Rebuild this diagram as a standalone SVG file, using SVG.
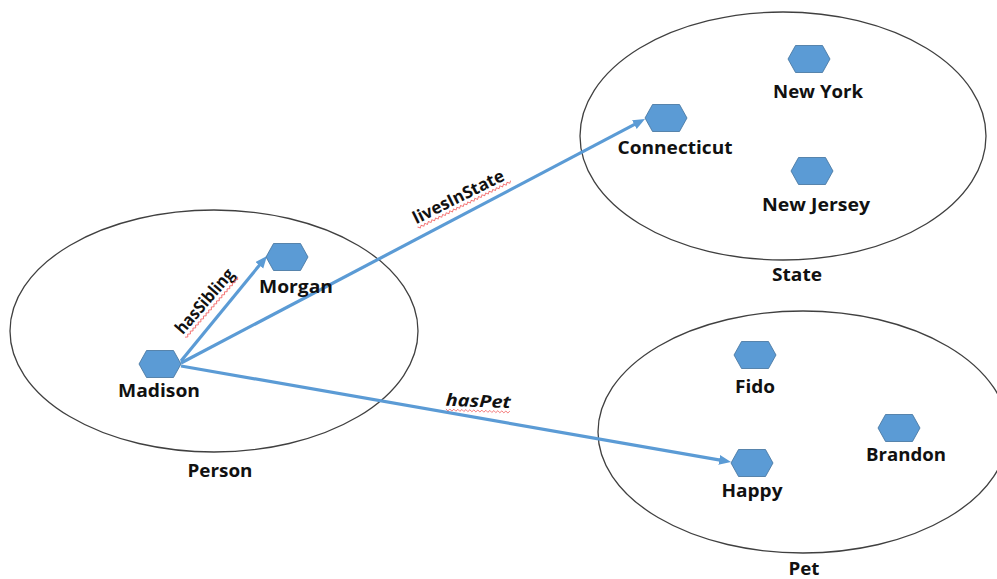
<svg xmlns="http://www.w3.org/2000/svg" width="997" height="579" viewBox="0 0 997 579">
<defs>
<style>
.set{fill:none;stroke:#404040;stroke-width:1.3}
.hex{fill:#5B9BD5;stroke:#41719C;stroke-width:0.8}
.lbl{font-family:"Open Sans","Liberation Sans",sans-serif;font-weight:700;font-size:17px;fill:#111;text-anchor:middle}
.edge{fill:none;stroke:#5B9BD5;stroke-width:3.2;marker-end:url(#arr)}
.sq{fill:none;stroke:#F05050;stroke-width:0.9;opacity:0.8}
</style>
<polygon id="hx" points="-21,0 -13.5,-13.5 13.5,-13.5 21,0 13.5,13.5 -13.5,13.5"/>
<marker id="arr" markerUnits="userSpaceOnUse" markerWidth="14" markerHeight="12" refX="4" refY="5" orient="auto">
<path d="M0,0 L12,5 L0,10 Z" fill="#5B9BD5"/>
</marker>
</defs>
<rect width="997" height="579" fill="#fff"/>
<g id="sets">
<ellipse class="set" cx="214" cy="331" rx="204" ry="121"/>
<ellipse class="set" cx="783" cy="136" rx="203" ry="124"/>
<ellipse class="set" cx="803" cy="432" rx="205" ry="121"/>
<text class="lbl" x="220" y="477" textLength="65" lengthAdjust="spacingAndGlyphs">Person</text>
<text class="lbl" x="797" y="281" textLength="50" lengthAdjust="spacingAndGlyphs">State</text>
<text class="lbl" x="804" y="575" textLength="31" lengthAdjust="spacingAndGlyphs">Pet</text>
</g>
<g id="connectors">
<line class="edge" x1="181" y1="361" x2="261.9" y2="262.2"/>
<line class="edge" x1="181" y1="363" x2="637.9" y2="122.7"/>
<line class="edge" x1="181" y1="366" x2="723.1" y2="460.6"/>
<g transform="translate(209,305) rotate(-49)">
<text class="lbl" x="0" y="0" textLength="80" lengthAdjust="spacingAndGlyphs">hasSibling</text>
<path class="sq" d="M-40,3 l2,2 l2,-2 l2,2 l2,-2 l2,2 l2,-2 l2,2 l2,-2 l2,2 l2,-2 l2,2 l2,-2 l2,2 l2,-2 l2,2 l2,-2 l2,2 l2,-2 l2,2 l2,-2 l2,2 l2,-2 l2,2 l2,-2 l2,2 l2,-2 l2,2 l2,-2 l2,2 l2,-2 l2,2 l2,-2 l2,2 l2,-2 l2,2 l2,-2 l2,2 l2,-2 l2,2 l2,-2"/>
</g>
<g transform="translate(461,202) rotate(-26.5)">
<text class="lbl" x="0" y="0" textLength="100" lengthAdjust="spacingAndGlyphs">livesInState</text>
<path class="sq" d="M-50,3 l2,2 l2,-2 l2,2 l2,-2 l2,2 l2,-2 l2,2 l2,-2 l2,2 l2,-2 l2,2 l2,-2 l2,2 l2,-2 l2,2 l2,-2 l2,2 l2,-2 l2,2 l2,-2 l2,2 l2,-2 l2,2 l2,-2 l2,2 l2,-2 l2,2 l2,-2 l2,2 l2,-2 l2,2 l2,-2 l2,2 l2,-2 l2,2 l2,-2 l2,2 l2,-2 l2,2 l2,-2 l2,2 l2,-2 l2,2 l2,-2 l2,2 l2,-2 l2,2 l2,-2 l2,2 l2,-2 l2,2 l2,-2"/>
</g>
<g transform="translate(478,407) rotate(2)">
<text class="lbl" x="0" y="0" font-style="italic" textLength="65" lengthAdjust="spacingAndGlyphs">hasPet</text>
<path class="sq" d="M-32,3 l2,2 l2,-2 l2,2 l2,-2 l2,2 l2,-2 l2,2 l2,-2 l2,2 l2,-2 l2,2 l2,-2 l2,2 l2,-2 l2,2 l2,-2 l2,2 l2,-2 l2,2 l2,-2 l2,2 l2,-2 l2,2 l2,-2 l2,2 l2,-2 l2,2 l2,-2 l2,2 l2,-2 l2,2 l2,-2"/>
</g>
</g>
<g id="madison"><use href="#hx" class="hex" x="160" y="364"/><text class="lbl" x="159" y="397" textLength="82" lengthAdjust="spacingAndGlyphs">Madison</text></g>
<g id="morgan"><use href="#hx" class="hex" x="287" y="257"/><text class="lbl" x="296" y="293" textLength="74" lengthAdjust="spacingAndGlyphs">Morgan</text></g>
<g id="connecticut"><use href="#hx" class="hex" x="666" y="118"/><text class="lbl" x="675" y="154" textLength="115" lengthAdjust="spacingAndGlyphs">Connecticut</text></g>
<g id="newyork"><use href="#hx" class="hex" x="809" y="59"/><text class="lbl" x="818" y="98" textLength="90" lengthAdjust="spacingAndGlyphs">New York</text></g>
<g id="newjersey"><use href="#hx" class="hex" x="812" y="171"/><text class="lbl" x="816" y="211" textLength="108" lengthAdjust="spacingAndGlyphs">New Jersey</text></g>
<g id="fido"><use href="#hx" class="hex" x="755" y="355"/><text class="lbl" x="755" y="393" textLength="40" lengthAdjust="spacingAndGlyphs">Fido</text></g>
<g id="brandon"><use href="#hx" class="hex" x="899" y="428"/><text class="lbl" x="906" y="461" textLength="80" lengthAdjust="spacingAndGlyphs">Brandon</text></g>
<g id="happy"><use href="#hx" class="hex" x="752" y="463"/><text class="lbl" x="752" y="497" textLength="61" lengthAdjust="spacingAndGlyphs">Happy</text></g>
</svg>
